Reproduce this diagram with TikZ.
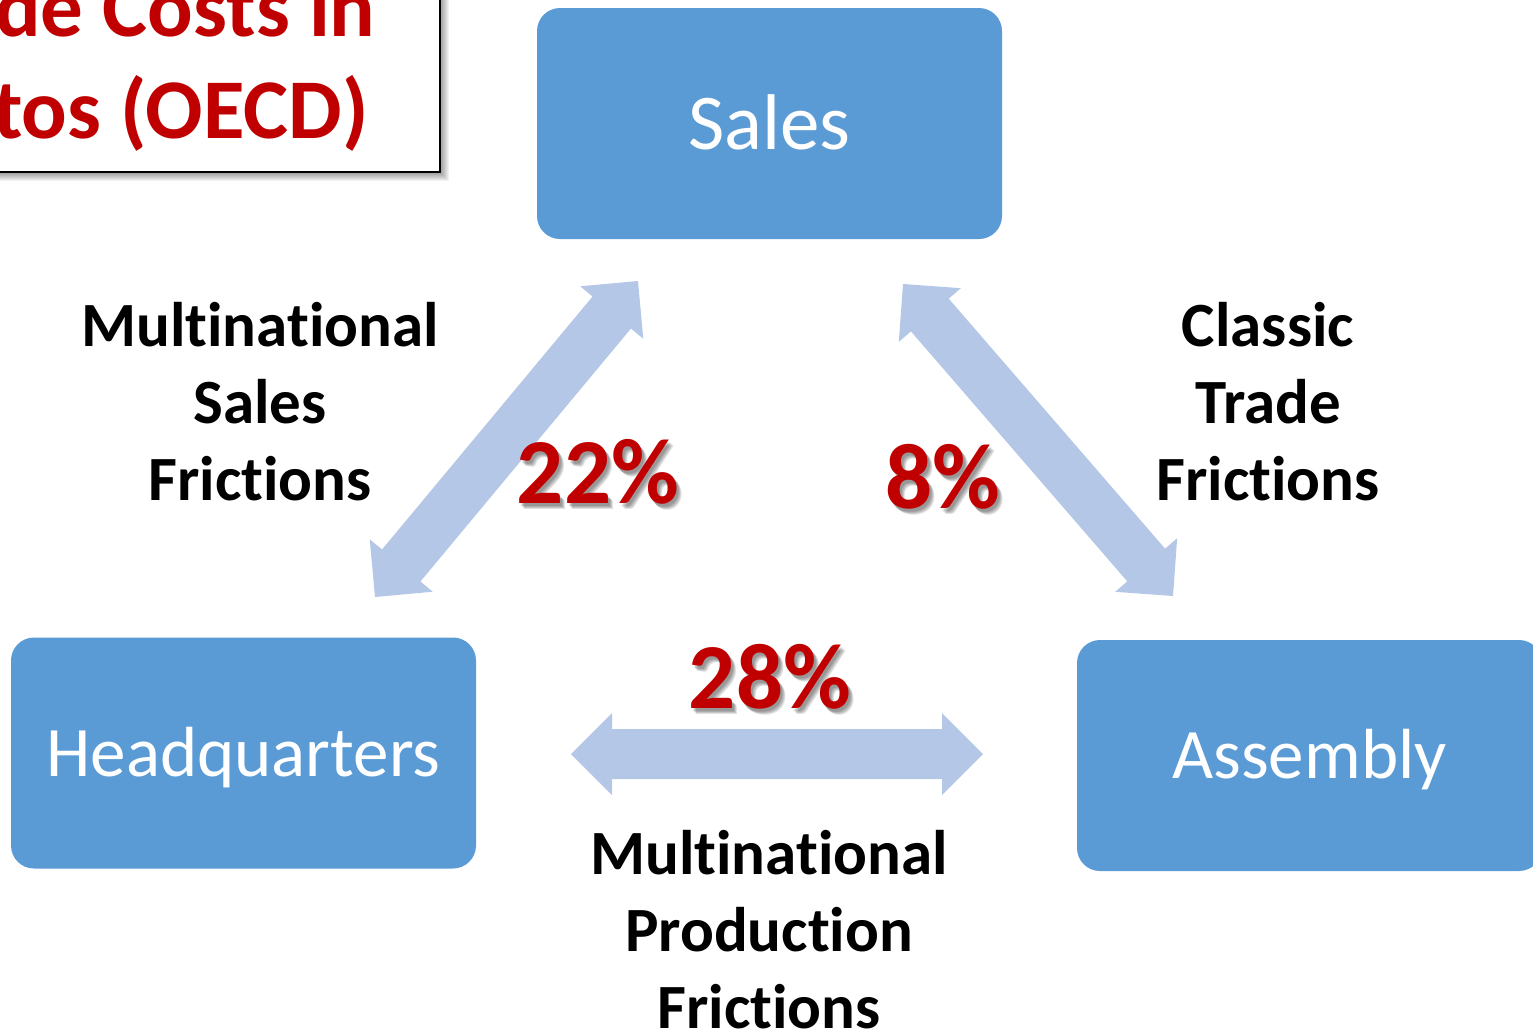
\documentclass[tikz,border=0pt]{standalone}
\usepackage{fontspec}
\setmainfont{Carlito}[Ligatures=NoCommon]
\usetikzlibrary{calc}
\definecolor{boxblue}{HTML}{5B9BD5}
\definecolor{arrblue}{HTML}{B4C7E7}
\definecolor{pctred}{HTML}{C00000}
\newcommand{\dblarrow}[2]{%
  \coordinate (#1#2p) at ($(#1)!20.5pt!(#2)$);
  \coordinate (#1#2q) at ($(#2)!20.5pt!(#1)$);
  \fill[arrowfill] (#1) -- ($(#1#2p)!20.5pt!90:(#2)$) -- ($(#1#2p)!12.5pt!90:(#2)$)
    -- ($(#1#2q)!12.5pt!-90:(#1)$) -- ($(#1#2q)!20.5pt!-90:(#1)$) -- (#2)
    -- ($(#1#2q)!20.5pt!90:(#1)$) -- ($(#1#2q)!12.5pt!90:(#1)$)
    -- ($(#1#2p)!12.5pt!-90:(#2)$) -- ($(#1#2p)!20.5pt!-90:(#2)$) -- cycle;}
\begin{document}
\begin{tikzpicture}[x=0.5pt,y=-0.5pt,
  box/.style={fill=boxblue, rounded corners=11.5pt, minimum width=232.5pt,
    minimum height=115.5pt, inner sep=0pt, text=white, text depth=0pt},
  salesfont/.style={font=\fontsize{39.5}{47}\selectfont, text height=26pt},
  boxfont/.style={font=\fontsize{35.5}{43}\selectfont, text height=23pt},
  lbl/.style={font=\fontsize{31.5}{38.5}\selectfont\bfseries, align=center, inner sep=0pt},
  pct/.style={font=\fontsize{46.5}{55}\selectfont\bfseries, inner sep=0pt, anchor=base},
  pctshadow/.style={pct, text=black, opacity=0.12},
  titletext/.style={font=\fontsize{42.5}{52}\selectfont\bfseries, text=pctred, inner sep=0pt, anchor=base east},
  arrowfill/.style={fill=arrblue}]
\useasboundingbox (0,0) rectangle (1533,1030);

% title box (cut off at top left)
\foreach \o in {2,3,...,9} {
  \fill[black, opacity=0.05] (-20+\o,-20+\o) rectangle (440+\o,172+\o);
}
\draw[fill=white, line width=0.8pt] (-20,-20) rectangle (440,172);
\node[titletext] (t1) at (376,36) {de Costs in};
\node[titletext] (t2) at (369,138) {tos (OECD)};

% boxes
\node[box, salesfont] (sales) at (769.5,123.5) {Sales};
\node[box, boxfont] (hq) at (243.5,753) {Headquarters};
\node[box, boxfont] (asm) at (1309.5,755.5) {Assembly};

% arrow end points
\coordinate (hqS) at (375,597);
\coordinate (saH) at (638,281);
\coordinate (saA) at (903,284);
\coordinate (asS) at (1173,596);
\coordinate (hqA) at (571,754);
\coordinate (asH) at (983,754);
\dblarrow{hqS}{saH}
\dblarrow{saA}{asS}
\dblarrow{hqA}{asH}

% labels (anchor base = baseline of the last line)
\node[lbl, anchor=base] (lmsf) at (260,500) {Multinational\\Sales\\Frictions};
\node[lbl, anchor=base] (lctf) at (1268,500) {Classic\\Trade\\Frictions};
\node[lbl, anchor=base] (lmpf) at (769,1028) {Multinational\\Production\\Frictions};

% percentages with soft shadow
\foreach \dx/\dy [count=\i] in {2/3,3/4,4/5,5/6} {
  \node[pctshadow] (s22\i) at (598+\dx,503+\dy) {22\%};
  \node[pctshadow] (s8\i) at (943+\dx,508+\dy) {8\%};
  \node[pctshadow] (s28\i) at (770+\dx,708+\dy) {28\%};
}
\node[pct, text=pctred] (p22) at (598,503) {22\%};
\node[pct, text=pctred] (p8) at (943,508) {8\%};
\node[pct, text=pctred] (p28) at (770,708) {28\%};
\end{tikzpicture}
\end{document}
